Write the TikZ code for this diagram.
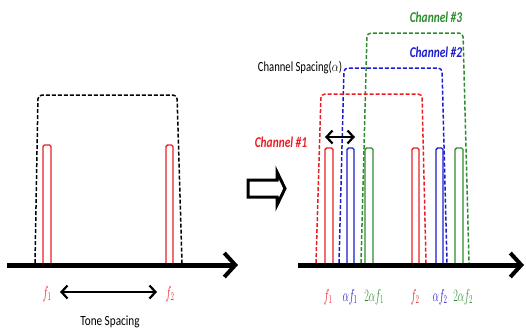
\documentclass[tikz,border=0pt]{standalone}
\usepackage{fontspec}
\setmainfont{Carlito}
\usetikzlibrary{arrows.meta}
\definecolor{chred}{RGB}{232,30,36}
\definecolor{chblue}{RGB}{28,28,205}
\definecolor{chgreen}{RGB}{46,140,46}
% narrow, tall lettering
\newcommand{\narrowtext}[2]{\scalebox{#1}[1]{#2}}
\newcommand{\freqtext}[1]{\scalebox{0.58}[1]{$#1$}}
\tikzset{
  axis/.style={line width=5pt,-{Straight Barb[length=11pt,width=24pt,line width=4pt]}},
  tone/.style={line width=1.4pt,rounded corners=1.5pt},
  envelope/.style={line width=1.5pt,dash pattern=on 4pt off 2pt,rounded corners=4pt},
  spacing/.style={line width=2.2pt,{Straight Barb[length=6pt,width=13pt]}-{Straight Barb[length=6pt,width=13pt]}},
  freq/.style={font=\fontsize{17}{17}\selectfont,inner sep=0pt},
  chanlabel/.style={font=\fontsize{15}{15}\selectfont\itshape\bfseries,inner sep=0pt},
  caption/.style={font=\fontsize{14}{14}\selectfont,text=black,inner sep=0pt}
}
\begin{document}
\begin{tikzpicture}[x=1pt,y=-1pt]
\useasboundingbox (0,0) rectangle (526,333);

% ---------- left panel: two tones ----------
\draw[envelope,black] (35,263) -- (38,95) -- (177,95) -- (182,263);
\draw[tone,chred] (43,263) -- (43,145) -- (51,145) -- (51,263);
\draw[tone,chred] (166,263) -- (166,145) -- (173,145) -- (173,263);
\coordinate (la) at (7,265);
\coordinate (lb) at (238,265);
\draw[axis] (la) -- (lb);

\node[freq,text=chred] (lf1) at (47,294) {\freqtext{f_1}};
\node[freq,text=chred] (lf2) at (170,294) {\freqtext{f_2}};
\coordinate (ts1) at (60,292);
\coordinate (ts2) at (157,292);
\draw[spacing] (ts1) -- (ts2);
\node[caption] (tonesp) at (110,322) {\narrowtext{0.8}{Tone Spacing}};

% ---------- transition arrow ----------
\draw[line width=3pt,line join=miter] (248,180) -- (277,180) -- (277,172) -- (285,188.5)
  -- (277,205) -- (277,197) -- (248,197) -- cycle;

% ---------- right panel: three channels ----------
\draw[envelope,chgreen] (361,263) -- (367,33) -- (463,33) -- (469,263);
\draw[envelope,chblue]  (339,263) -- (344,68) -- (442,68) -- (447,263);
\draw[envelope,chred]   (316,263) -- (321,94) -- (422,94) -- (426,263);

\draw[tone,chred]   (325,263) -- (325,148) -- (333,148) -- (333,263);
\draw[tone,chblue]  (347,263) -- (347,148) -- (354,148) -- (354,263);
\draw[tone,chgreen] (365,263) -- (365,148) -- (373,148) -- (373,263);
\draw[tone,chred]   (412,263) -- (412,148) -- (419,148) -- (419,263);
\draw[tone,chblue]  (436,263) -- (436,148) -- (443,148) -- (443,263);
\draw[tone,chgreen] (455,263) -- (455,148) -- (463,148) -- (463,263);

\coordinate (ra) at (298,265);
\coordinate (rb) at (524,265);
\draw[axis] (ra) -- (rb);

\node[freq,text=chred]   (rf1)  at (328,297) {\freqtext{f_1}};
\node[freq,text=chblue]  (raf1) at (350,297) {\freqtext{\alpha f_1}};
\node[freq,text=chgreen] (r2f1) at (374,297) {\freqtext{2\alpha f_1}};
\node[freq,text=chred]   (rf2)  at (415,297) {\freqtext{f_2}};
\node[freq,text=chblue]  (raf2) at (440,297) {\freqtext{\alpha f_2}};
\node[freq,text=chgreen] (r2f2) at (463,297) {\freqtext{2\alpha f_2}};

\coordinate (cs1) at (325,137);
\coordinate (cs2) at (355,137);
\draw[spacing] (cs1) -- (cs2);

\node[chanlabel,text=chred]   (ch1) at (281,142) {\narrowtext{0.76}{Channel \#1}};
\node[chanlabel,text=chblue]  (ch2) at (436,52)  {\narrowtext{0.76}{Channel \#2}};
\node[chanlabel,text=chgreen] (ch3) at (436,17)  {\narrowtext{0.76}{Channel \#3}};
\node[caption] (chsp) at (300,68) {\narrowtext{0.76}{Channel Spacing($\alpha$)}};
\end{tikzpicture}
\end{document}
